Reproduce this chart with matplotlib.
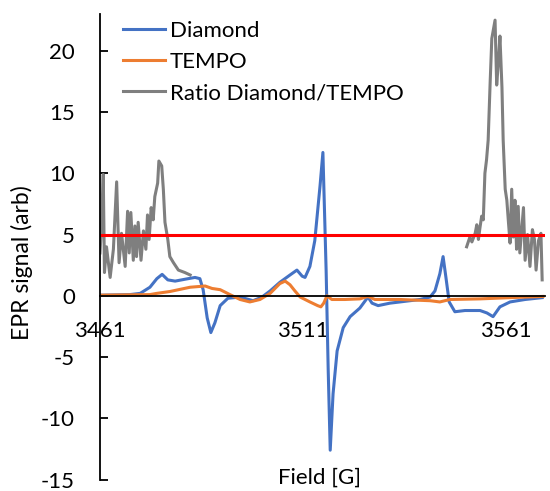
import matplotlib
matplotlib.use('Agg')
import matplotlib.pyplot as plt
import numpy as np

plt.rcParams['font.family'] = ['Lato', 'DejaVu Sans']
plt.rcParams['axes.unicode_minus'] = False

# Diamond EPR signal
field_diamond = [3461, 3468.4, 3470.9, 3473.3, 3475.0, 3476.3, 3477.7, 3479.5, 3481.9, 3484.4,
                 3485.6, 3486.4, 3487.4, 3488.3, 3489.3, 3490.6, 3492.5, 3495.5, 3498.7, 3500.9,
                 3502.9, 3505.3, 3507.8, 3509.5, 3510.8, 3511.5, 3512.7, 3513.9, 3515.2, 3515.9,
                 3516.7, 3517.2, 3517.7, 3518.4, 3519.4, 3520.9, 3522.6, 3525.0, 3527.0, 3528.0,
                 3529.5, 3532.4, 3534.9, 3539.8, 3542.3, 3543.5, 3544.7, 3545.5, 3546.2, 3547.0,
                 3548.4, 3550.9, 3554.6, 3556.3, 3557.8, 3559.5, 3562.0, 3565.7, 3569.9]
diamond = [0.05, 0.1, 0.2, 0.7, 1.4, 1.75, 1.3, 1.2, 1.35, 1.5,
           1.4, 0.5, -1.8, -3.0, -2.2, -0.8, -0.2, -0.1, -0.4, -0.1,
           0.4, 1.1, 1.7, 2.1, 1.6, 1.5, 2.4, 4.5, 9.0, 11.7,
           2.0, -6.0, -12.6, -8.0, -4.5, -2.6, -1.7, -1.0, -0.1, -0.6,
           -0.8, -0.6, -0.5, -0.3, -0.1, 0.4, 1.8, 3.2, 1.5, -0.5,
           -1.3, -1.2, -1.2, -1.4, -1.7, -0.9, -0.5, -0.3, -0.15]

# TEMPO EPR signal
field_tempo = [3461, 3473.3, 3475.0, 3478.2, 3483.2, 3486.9, 3488.6, 3490.6, 3493.0, 3495.5,
               3497.9, 3500.4, 3502.9, 3505.3, 3506.6, 3507.8, 3509.0, 3510.3, 3512.7, 3514.6,
               3515.4, 3516.1, 3516.9, 3518.1, 3521.3, 3525.0, 3527.0, 3528.7, 3534.9, 3542.3,
               3544.7, 3547.2, 3554.6, 3562.0, 3570.1]
tempo = [0.05, 0.1, 0.2, 0.35, 0.7, 0.8, 0.6, 0.5, 0.1, -0.3,
         -0.5, -0.3, 0.2, 1.0, 1.2, 0.9, 0.4, -0.1, -0.5, -0.8,
         -0.9, -0.6, 0.0, -0.3, -0.3, -0.25, -0.05, -0.3, -0.3, -0.4,
         -0.5, -0.3, -0.25, -0.15, -0.05]

# Ratio Diamond/TEMPO (only shown where TEMPO is not near zero)
field_ratio = [3461.0, 3461.4, 3461.8, 3462.1, 3462.6, 3463.5, 3464.3, 3465.1, 3465.7, 3466.3,
               3467.2, 3467.8, 3468.2, 3468.6, 3469.2, 3469.6, 3470.0, 3470.4, 3471.1, 3471.7,
               3472.3, 3472.7, 3473.1, 3473.6, 3474.1, 3474.5, 3475.2, 3475.5, 3476.2, 3476.6,
               3477.0, 3477.7, 3478.2, 3479.1, 3480.3, 3481.9, 3483.2,
               3520.0,
               3551.3, 3552.1, 3552.6, 3553.4, 3553.8, 3554.2, 3554.6, 3555.0, 3555.4, 3555.8,
               3556.2, 3556.6, 3557.1, 3557.5, 3558.3, 3558.7, 3559.1, 3559.5, 3560.0, 3560.3,
               3560.8, 3561.2, 3561.6, 3562.0, 3562.4, 3562.8, 3563.2, 3563.6, 3564.0, 3564.4,
               3565.3, 3565.7, 3566.3, 3566.9, 3567.5, 3568.0, 3568.4, 3569.0, 3569.6, 3569.9]
ratio = [3.5, 6.0, 9.9, 1.9, 4.0, 1.5, 3.8, 9.3, 2.7, 5.1,
         2.4, 6.9, 3.5, 6.8, 2.9, 5.7, 3.2, 6.0, 2.9, 5.3,
         3.8, 6.6, 4.6, 7.2, 6.2, 8.1, 9.2, 11.0, 10.6, 8.7,
         6.0, 4.6, 3.2, 2.7, 2.1, 1.9, 1.7,
         np.nan,
         4.0, 4.8, 4.4, 5.1, 5.8, 4.6, 5.6, 6.5, 6.2, 10.0,
         11.1, 12.7, 17.5, 21.0, 22.5, 17.2, 19.0, 21.2, 17.0, 12.7,
         8.7, 7.8, 6.0, 4.3, 8.7, 4.8, 7.8, 3.8, 7.3, 3.5,
         7.2, 2.9, 5.0, 2.4, 5.4, 4.6, 2.1, 4.5, 5.1, 1.3]

threshold = 5
xticks = [3461, 3511, 3561]
yticks = [-15, -10, -5, 0, 5, 10, 15, 20]

fig = plt.figure(figsize=(5.5, 4.91), dpi=100)
ax = fig.add_axes([100/550, 1 - 479.6/491, 445/550, (479.6 - 14)/491])

ax.plot(field_diamond, diamond, color='#4472C4', lw=2.2, label='Diamond')
ax.plot(field_tempo, tempo, color='#ED7D31', lw=2.2, label='TEMPO')
ax.plot(field_ratio, ratio, color='#7F7F7F', lw=2.2, label='Ratio Diamond/TEMPO')
ax.axhline(threshold, color='#FF0000', lw=2.2)

ax.set_xlim(3461, 3570.6)
ax.set_ylim(-15, 23)
ax.set_xticks(xticks)
ax.set_yticks(yticks)

ax.spines['top'].set_visible(False)
ax.spines['right'].set_visible(False)
ax.spines['bottom'].set_position(('data', 0))
ax.spines['bottom'].set_linewidth(1.3)
ax.spines['left'].set_linewidth(1.3)
ax.tick_params(axis='y', direction='in', length=6, width=1.3, pad=18, labelsize=16)
ax.tick_params(axis='x', length=0, pad=18, labelsize=16)

fig.text(22/550, 1 - 263/491, 'EPR signal (arb)', rotation=90, fontsize=16.5,
         ha='center', va='center')
fig.text(320/550, 1 - 478/491, 'Field [G]', fontsize=16, ha='center', va='center')

ax.legend(loc='upper left', bbox_to_anchor=(0.052, 0.985), frameon=False, fontsize=16,
          handlelength=1.9, handletextpad=0.2, labelspacing=0.5, borderaxespad=0,
          borderpad=0)

fig.savefig('out.png', dpi=100)
